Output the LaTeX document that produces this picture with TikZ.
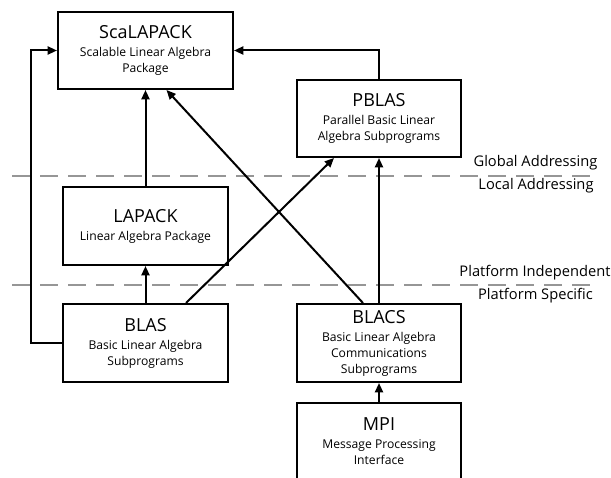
\documentclass[tikz,border=0pt]{standalone}
\usepackage{fontspec}
\setmainfont{Open Sans}
\usetikzlibrary{arrows.meta,calc}
\newcommand{\titlef}{\fontsize{13.5}{16}\selectfont}
\newcommand{\subf}{\fontsize{9.1}{12}\selectfont}
\tikzset{
  libbox/.style={draw, line width=1.5pt, align=center, inner sep=0pt,
    minimum width=123pt, minimum height=58.5pt, font=\subf},
  dep/.style={line width=1.5pt, -{Triangle[length=7pt,width=6pt]}},
  layer/.style={line width=1.5pt, draw={rgb,255:red,150;green,150;blue,150},
    dash pattern={on 13.5pt off 7.5pt}},
  layertext/.style={inner sep=0pt, font=\fontsize{11}{13}\selectfont}
}
\begin{document}
\begin{tikzpicture}[x=0.75pt,y=0.75pt,yscale=-1,xscale=1]
\useasboundingbox (0,0) rectangle (611,478);

% layer separators
\draw [layer] (12,176) -- (600,176);
\draw [layer] (12,285) -- (600,285);

% Text Node
\node [layertext] (global) at (535.5,163) {Global Addressing};
% Text Node
\node [layertext] (local) at (536,186) {Local Addressing};
% Text Node
\node [layertext] (indep) at (535,273) {Platform Independent};
% Text Node
\node [layertext] (spec) at (535.5,296) {Platform Specific};

% libraries
\node [libbox, minimum width=131.25pt, minimum height=57.75pt] (scalapack) at (145.5,50.5)
  {{\titlef ScaLAPACK}\\[1.5pt]Scalable Linear Algebra\\Package};
\node [libbox, minimum height=57.75pt] (pblas) at (379,118.5)
  {{\titlef PBLAS}\\[1.5pt]Parallel Basic Linear\\Algebra Subprograms};
\node [libbox, minimum width=123.75pt] (lapack) at (145.5,226)
  {{\titlef LAPACK}\\[1.5pt]Linear Algebra Package};
\node [libbox, minimum width=123.75pt] (blas) at (145.5,343)
  {{\titlef BLAS}\\[1.5pt]Basic Linear Algebra\\Subprograms};
\node [libbox] (blacs) at (379,343)
  {{\titlef BLACS}\\[1.5pt]Basic Linear Algebra\\Communications\\Subprograms};
\node [libbox] (mpi) at (379,441.5)
  {{\titlef MPI}\\[1.5pt]Message Processing\\Interface};

% dependencies
\draw [dep] (lapack) -- (scalapack);
\draw [dep] (blas) -- (lapack);
\draw [dep] (blacs) -- (pblas);
\draw [dep] (mpi) -- (blacs);
\draw [dep] (blas.west) -- ++(-31,0) |- (scalapack.west);
\draw [dep] (pblas.north) |- (scalapack.east);
\draw [dep] ($(blacs.north)+(-16,0)$) -- ($(scalapack.south)+(21,0)$);
\draw [dep] ($(blas.north)+(40.5,0)$) -- ($(pblas.south)+(-45,0)$);
\end{tikzpicture}
\end{document}
